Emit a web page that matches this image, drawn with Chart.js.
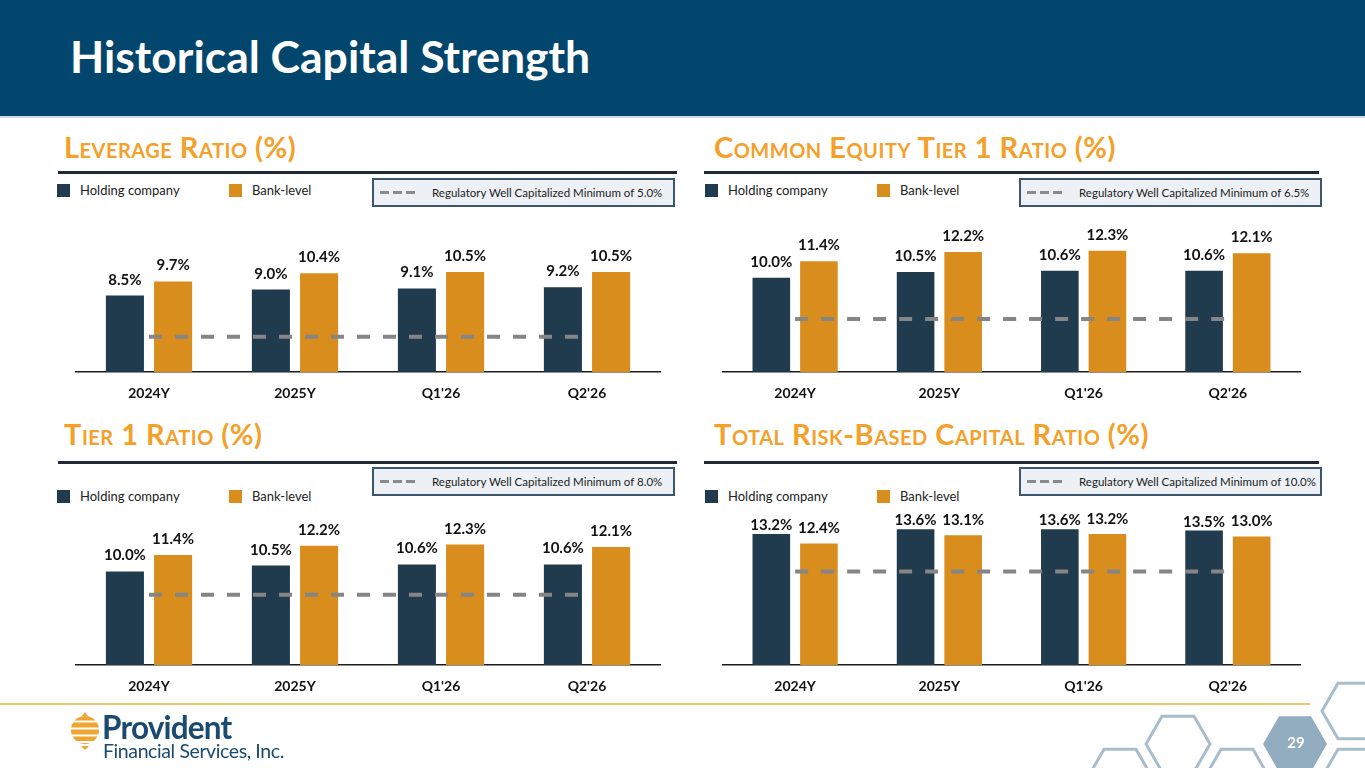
<!DOCTYPE html>
<html>
<head>
<meta charset="utf-8">
<script src="https://cdn.jsdelivr.net/npm/chart.js@4.4.1/dist/chart.umd.min.js"></script>
<style>
  body { margin: 0; }
  #page { position: relative; width: 1365px; height: 768px; overflow: hidden; background: #fff; font-family: Lato, 'Open Sans', sans-serif; }
  #header { position: absolute; left: 0; top: 0; width: 1365px; height: 116px; background: #02466d; border-bottom: 2px solid #c6dceb; }
  #header h1 { position: absolute; left: 70px; top: 34px; margin: 0; font: bold 44.5px/44.5px Lato, sans-serif; color: #fff; }
  .sec { position: absolute; margin: 0; font: bold 29px/29px Lato, sans-serif; font-variant: small-caps; color: #f4a02a; letter-spacing: 0.5px; }
  .rule { position: absolute; height: 3px; background: #1f2a36; }
  .legend { position: absolute; display: flex; align-items: center; font-size: 13px; color: #222; height: 14px; }
  .sw { width: 13px; height: 13px; margin-right: 10px; }
  .box { position: absolute; width: 299px; height: 25px; background: #edf1f5; border: 2px solid #3c566d; display: flex; align-items: center; font-size: 11.5px; color: #222; box-sizing: content-box; }
  .box .dash { width: 36px; height: 3px; margin: 0 16px 0 6px; background: repeating-linear-gradient(90deg, #8a8a8a 0 9px, transparent 9px 13px); }
  canvas { position: absolute; }
  #orangeRule { position: absolute; left: 0; top: 703px; width: 1310px; height: 2px; background: #f1c46f; }
</style>
</head>
<body>
<div id="page">
  <div id="header"><h1>Historical Capital Strength</h1></div>

  <div class="sec" style="left:64px;top:132px">Leverage Ratio (%)</div>
  <div class="sec" style="left:714px;top:132px">Common Equity Tier 1 Ratio (%)</div>
  <div class="sec" style="left:64px;top:419px">Tier 1 Ratio (%)</div>
  <div class="sec" style="left:714px;top:419px">Total Risk-Based Capital Ratio (%)</div>

  <div class="rule" style="left:58px;top:171px;width:619px"></div>
  <div class="rule" style="left:704px;top:171px;width:615px"></div>
  <div class="rule" style="left:58px;top:461px;width:619px"></div>
  <div class="rule" style="left:704px;top:461px;width:615px"></div>

  <div id="legends"></div>

  <canvas id="leverageChart" width="615" height="210" style="left:60px;top:205px"></canvas>
  <canvas id="cet1Chart" width="615" height="210" style="left:707px;top:205px"></canvas>
  <canvas id="tier1Chart" width="615" height="211" style="left:60px;top:497px"></canvas>
  <canvas id="trbcChart" width="615" height="211" style="left:707px;top:497px"></canvas>

  <div id="orangeRule"></div>

  <svg id="deco" style="position:absolute;left:0;top:0" width="1365" height="768">
    <defs>
      <clipPath id="ball"><circle cx="85" cy="730" r="14"/></clipPath>
    </defs>
    <g clip-path="url(#ball)" fill="#f0a531">
      <rect x="70" y="716" width="30" height="4.5"/>
      <rect x="70" y="722.5" width="30" height="5"/>
      <rect x="70" y="729.5" width="30" height="5"/>
      <rect x="70" y="736.5" width="30" height="4.5"/>
      <rect x="70" y="743" width="30" height="3"/>
    </g>
    <polygon points="81,746 89,746 85,750" fill="#f0a531"/>
    <polygon points="82,716 88,716 85,712" fill="#f0a531"/>
    <text x="102" y="739" font-family="Lato" font-weight="bold" font-size="31.5" fill="#1b4a71" letter-spacing="-0.8">Provident</text>
    <text x="103" y="758" font-family="Lato" font-size="19.5" fill="#1b4a71" letter-spacing="-0.4">Financial Services, Inc.</text>
    <g id="hexes" fill="none" stroke="#a8bdcc" stroke-width="3"></g>
  </svg>
</div>

<script>
const categories = ['2024Y', '2025Y', "Q1'26", "Q2'26"];

const leverageHolding = [8.5, 9.0, 9.1, 9.2];
const leverageBank = [9.7, 10.4, 10.5, 10.5];
const leverageMin = 5.0;

const cet1Holding = [10.0, 10.5, 10.6, 10.6];
const cet1Bank = [11.4, 12.2, 12.3, 12.1];
const cet1Min = 6.5;

const tier1Holding = [10.0, 10.5, 10.6, 10.6];
const tier1Bank = [11.4, 12.2, 12.3, 12.1];
const tier1Min = 8.0;

const trbcHolding = [13.2, 13.6, 13.6, 13.5];
const trbcBank = [12.4, 13.1, 13.2, 13.0];
const trbcMin = 10.0;

const DARK = '#203a4e';
const ORANGE = '#d98d1c';

// legend rows + regulatory boxes
const legendSpots = [
    { x: 57, y: 183, bx: 372, by: 178, min: leverageMin },
    { x: 705, y: 183, bx: 1019, by: 178, min: cet1Min },
    { x: 57, y: 489, bx: 372, by: 467, min: tier1Min },
    { x: 705, y: 489, bx: 1019, by: 467, min: trbcMin }
];
const legendHost = document.getElementById('legends');
legendSpots.forEach(s => {
    legendHost.insertAdjacentHTML('beforeend',
        `<div class="legend" style="left:${s.x}px;top:${s.y}px"><div class="sw" style="background:${DARK}"></div>Holding company</div>` +
        `<div class="legend" style="left:${s.x + 172}px;top:${s.y}px"><div class="sw" style="background:${ORANGE}"></div>Bank-level</div>` +
        `<div class="box" style="left:${s.bx}px;top:${s.by}px"><div class="dash"></div>Regulatory Well Capitalized Minimum of ${s.min.toFixed(1)}%</div>`);
});

// hexagon decoration, bottom right
const svgNS = 'http://www.w3.org/2000/svg';
const hexG = document.getElementById('hexes');
const hexCenters = [[1120, 777], [1178, 744], [1237, 777], [1354, 711], [1354, 777], [1295, 744]];
hexCenters.forEach(([cx, cy], i) => {
    const r = 32, h = 27.7;
    const pts = [[cx - r, cy], [cx - r / 2, cy - h], [cx + r / 2, cy - h], [cx + r, cy], [cx + r / 2, cy + h], [cx - r / 2, cy + h]]
        .map(p => p.join(',')).join(' ');
    const poly = document.createElementNS(svgNS, 'polygon');
    poly.setAttribute('points', pts);
    if (i === 5) { poly.setAttribute('fill', '#92adc0'); poly.setAttribute('stroke', 'none'); }
    hexG.appendChild(poly);
});
const pageNum = document.createElementNS(svgNS, 'text');
pageNum.setAttribute('x', 1296);
pageNum.setAttribute('y', 748);
pageNum.setAttribute('font-family', 'Lato');
pageNum.setAttribute('font-weight', 'bold');
pageNum.setAttribute('font-size', 15);
pageNum.setAttribute('fill', '#fff');
pageNum.setAttribute('text-anchor', 'middle');
pageNum.textContent = '29';
document.getElementById('deco').appendChild(pageNum);

const valueLabels = {
    id: 'valueLabels',
    afterDatasetsDraw(chart, args, opts) {
        const ctx = chart.ctx;
        ctx.save();
        ctx.font = 'bold 15px Lato';
        ctx.fillStyle = '#111';
        ctx.textAlign = 'center';
        ctx.textBaseline = 'alphabetic';
        chart.data.datasets.forEach((ds, i) => {
            if (ds.type === 'line') return;
            const gap = opts.gaps ? opts.gaps[i] : 11;
            chart.getDatasetMeta(i).data.forEach((bar, j) => {
                ctx.fillText(ds.data[j].toFixed(1) + '%', bar.x, bar.y - gap);
            });
        });
        ctx.restore();
    }
};

function makeChart(id, holding, bank, minimum, padTop, padRight, gaps) {
    return new Chart(document.getElementById(id), {
        type: 'bar',
        data: {
            labels: categories,
            datasets: [
                { label: 'Holding company', data: holding, backgroundColor: DARK, order: 1 },
                { label: 'Bank-level', data: bank, backgroundColor: ORANGE, order: 1 },
                {
                    type: 'line',
                    label: 'Regulatory Well Capitalized Minimum',
                    data: categories.map(() => minimum),
                    borderColor: '#858585',
                    borderWidth: 4,
                    borderDash: [13, 13],
                    pointRadius: 0,
                    fill: false,
                    order: 0
                }
            ]
        },
        options: {
            responsive: false,
            animation: false,
            categoryPercentage: 0.66,
            barPercentage: 0.79,
            layout: { padding: { left: 16, right: padRight, top: padTop, bottom: 0 } },
            plugins: {
                legend: { display: false },
                tooltip: { enabled: false },
                valueLabels: { gaps: gaps }
            },
            scales: {
                x: {
                    grid: { display: false },
                    border: { display: true, color: '#1c1c1c', width: 1.5 },
                    ticks: { color: '#111', font: { family: 'Lato', weight: 'bold', size: 14 }, padding: 5 },
                    afterFit: scale => { scale.height = 43; }
                },
                y: { display: false, min: 2, max: 15 }
            }
        },
        plugins: [valueLabels]
    });
}

// canvas height - 43 = baseline offset from canvas top
makeChart('leverageChart', leverageHolding, leverageBank, leverageMin, 14, 15, [11, 11]);
makeChart('cet1Chart', cet1Holding, cet1Bank, cet1Min, 14, 22, [11, 11]);
makeChart('tier1Chart', tier1Holding, tier1Bank, tier1Min, 16, 15, [11, 11]);
makeChart('trbcChart', trbcHolding, trbcBank, trbcMin, 16, 22, [4, 10]);
</script>
</body>
</html>
